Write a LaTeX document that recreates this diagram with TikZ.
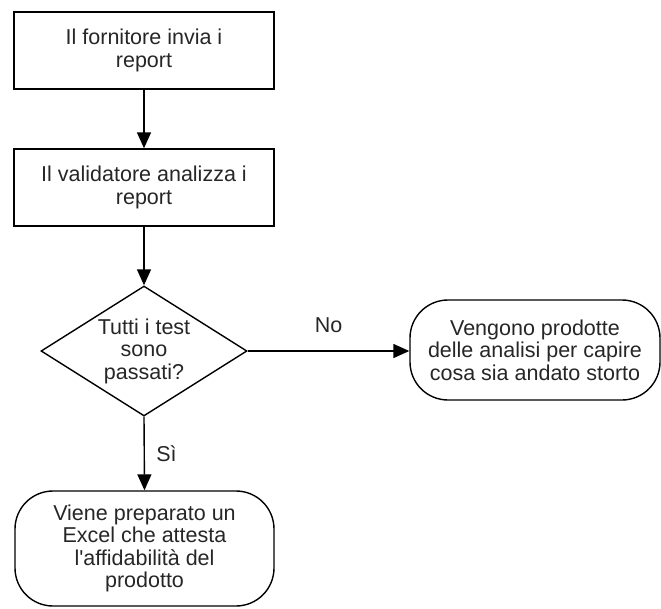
\documentclass[tikz,border=0pt]{standalone}
\usepackage{fontspec}
\newfontfamily\flowfont{Liberation Sans}
\usetikzlibrary{shapes.geometric,arrows.meta}
\begin{document}
\begin{tikzpicture}[x=1pt,y=-1pt,
  every node/.style={font=\flowfont\fontsize{21.5}{22.5}\selectfont, text=black!85, align=center},
  stepbox/.style={draw, line width=1.4pt, minimum width=260pt, minimum height=77pt, inner sep=0pt},
  endbox/.style={draw, line width=1.4pt, rounded corners=38pt, inner sep=0pt},
  decision/.style={draw, line width=1.4pt, diamond, inner sep=0pt, minimum width=206pt, minimum height=130pt},
  flow/.style={line width=1.4pt, -{Triangle[length=16pt,width=14pt]}}]
  \useasboundingbox (0,0) rectangle (661,608);
  \node[stepbox] (a) at (144,50.5) {Il fornitore invia i\\report};
  \node[stepbox] (b) at (144,187.5) {Il validatore analizza i\\report};
  \node[decision] (c) at (144,351) {};
  \node at (c.center) {Tutti i test\\sono\\passati?};
  \node[endbox, minimum width=250pt, minimum height=100pt] (d) at (535,350) {Vengono prodotte\\delle analisi per capire\\cosa sia andato storto};
  \node[endbox, minimum width=259pt, minimum height=115pt] (e) at (144.5,548.5) {Viene preparato un\\Excel che attesta\\l'affidabilità del\\prodotto};
  \draw[flow] (a) -- (b);
  \draw[flow] (b) -- (c.north);
  \draw[flow] (c.east) -- node[above=14pt] {No} (d.west |- c.east);
  \draw[flow] (c.south) -- node[right=8pt] {Sì} (e.north);
\end{tikzpicture}
\end{document}
